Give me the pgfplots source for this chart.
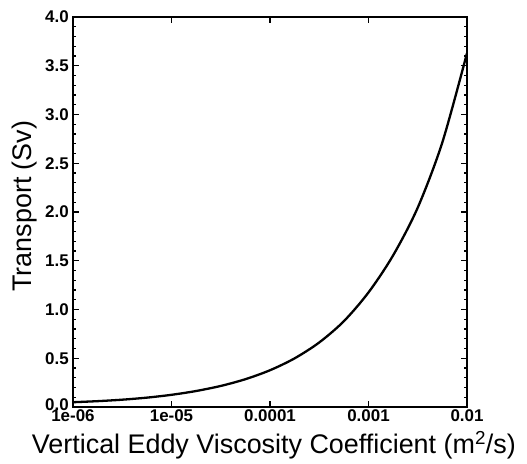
\documentclass[border=0pt]{standalone}
\usepackage{pgfplots}
\pgfplotsset{compat=1.18}
\usepackage{fontspec}
\setmainfont{Liberation Sans}
\begin{document}
\begin{tikzpicture}
\begin{axis}[
  scale only axis,
  width=394bp, height=390bp,
  xmode=log, log basis x=10,
  xmin=1e-6, xmax=1e-2,
  ymin=0, ymax=4,
  xtick={1e-6,1e-5,1e-4,1e-3,1e-2},
  xticklabels={1e-06,1e-05,0.0001,0.001,0.01},
  ytick={0,0.5,1,1.5,2,2.5,3,3.5,4},
  yticklabels={\raisebox{5bp}{0.0},0.5,1.0,1.5,2.0,2.5,3.0,3.5,4.0},
  minor y tick num=4,
  tick label style={font=\bfseries\fontsize{17}{17}\selectfont, text=black, inner sep=2bp},
  yticklabel style={xshift=-2bp},
  tick align=inside,
  major tick length=6bp,
  minor tick length=3.5bp,
  every tick/.style={black, line width=1.3bp},
  axis line style={line width=2.2bp},
  xlabel={Vertical Eddy Viscosity Coefficient (m\textsuperscript{2}/s)},
  ylabel={Transport (Sv)},
  label style={font=\fontsize{27}{27}\selectfont},
  xlabel style={at={(axis description cs:0.51,0)}, anchor=base, yshift=-46bp},
  ylabel style={at={(axis description cs:-0.124,0.515)}, anchor=center},
]
\addplot[black, line width=2.3bp, smooth] coordinates {
(1e-6,0.049)
(1.778e-6,0.060)
(3.162e-6,0.075)
(5.623e-6,0.096)
(1e-5,0.125)
(1.778e-5,0.164)
(3.162e-5,0.216)
(5.623e-5,0.285)
(1e-4,0.377)
(1.778e-4,0.499)
(3.162e-4,0.662)
(5.623e-4,0.880)
(1e-3,1.175)
(1.778e-3,1.555)
(3.162e-3,2.045)
(5.623e-3,2.715)
(1e-2,3.63)
};
\end{axis}
\pgfresetboundingbox
\path ([shift={(-73bp,-57bp)}]current axis.south west) rectangle ([shift={(60bp,17bp)}]current axis.north east);
\end{tikzpicture}
\end{document}
